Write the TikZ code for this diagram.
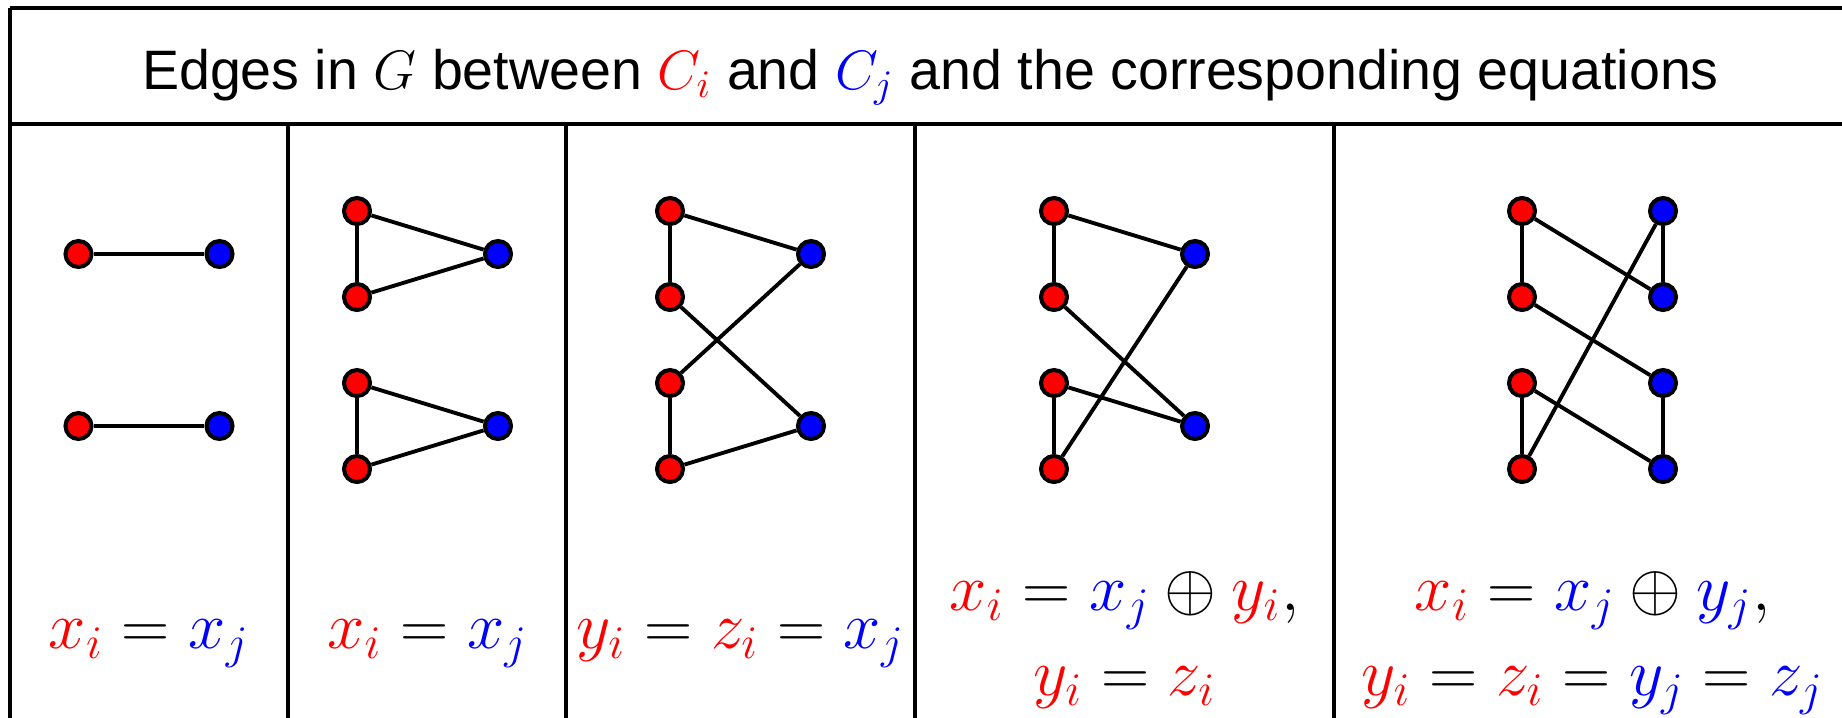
\RequirePackage{fix-cm}
\documentclass[tikz,border=0pt]{standalone}
\usepackage[no-math]{fontspec}
\setmainfont{Liberation Sans}
\usepackage{xcolor}
\usepackage{tikz}
\usetikzlibrary{positioning}

\newcommand{\redm}[1]{{\color{red}#1}}
\newcommand{\bluem}[1]{{\color{blue}#1}}

\begin{document}
\begin{tikzpicture}[x=0.01cm, y=-0.01cm,
    rv/.style={circle, draw=black, line width=1.15pt, fill=red, minimum size=0.26cm, inner sep=0pt},
    bv/.style={rv, fill=blue},
    edge/.style={line width=1.1pt},
    eq/.style={font=\fontsize{19}{24}\selectfont, anchor=base, align=center, inner sep=0pt},
    rule/.style={line width=0.95pt},
    sep/.style={line width=0.95pt}]

\useasboundingbox (0,0) rectangle (1842,717);
\clip (0,0) rectangle (1842,717);

% ── Table frame ──────────────────────────────────────────────────
\draw[rule] (10,8) -- (1900,8);
\draw[rule] (10,8) -- (10,760);
\draw[rule, line width=1.15pt] (10,124) -- (1900,124);
\foreach \x in {288, 566, 915, 1334}
    \draw[sep] (\x,124) -- (\x,760);

% Header
\node[font=\fontsize{15.8}{19}\selectfont, anchor=base, inner sep=0pt] (title) at (930.5,89)
    {Edges in $G$ between $\redm{C_i}$ and $\bluem{C_j}$ and the corresponding equations};

% ── Panel 1: two single edges ────────────────────────────────────
\begin{scope}[shift={(149,0)}]
    \foreach \i/\y in {1/254, 2/426} {
        \node[rv] (ar\i) at (-70.5,\y) {};
        \node[bv] (ab\i) at (70.5,\y) {};
    }
    \foreach \u/\v in {ar1/ab1, ar2/ab2}
        \draw[edge] (\u) -- (\v);
    \node[eq] (aeq) at (0,648) {$\redm{x_i} = \bluem{x_j}$};
\end{scope}

% ── Panel 2: two triangles ───────────────────────────────────────
\begin{scope}[shift={(427.5,0)}]
    \foreach \i/\y in {1/211, 2/297, 3/383, 4/469}
        \node[rv] (br\i) at (-70.5,\y) {};
    \foreach \i/\y in {1/254, 2/426}
        \node[bv] (bb\i) at (70.5,\y) {};
    \foreach \u/\v in {br1/br2, br1/bb1, br2/bb1, br3/br4, br3/bb2, br4/bb2}
        \draw[edge] (\u) -- (\v);
    \node[eq] (beq) at (0,648) {$\redm{x_i} = \bluem{x_j}$};
\end{scope}

% ── Panel 3: crossed pair ────────────────────────────────────────
\begin{scope}[shift={(740.5,0)}]
    \foreach \i/\y in {1/211, 2/297, 3/383, 4/469}
        \node[rv] (cr\i) at (-70.5,\y) {};
    \foreach \i/\y in {1/254, 2/426}
        \node[bv] (cb\i) at (70.5,\y) {};
    \foreach \u/\v in {cr1/cr2, cr1/cb1, cr2/cb2, cb1/cr3, cr3/cr4, cr4/cb2}
        \draw[edge] (\u) -- (\v);
    \node[eq] (ceq) at (0,648) {$\redm{y_i} = \redm{z_i} = \bluem{x_j}$};
\end{scope}

% ── Panel 4 ──────────────────────────────────────────────────────
\begin{scope}[shift={(1124.5,0)}]
    \foreach \i/\y in {1/211, 2/297, 3/383, 4/469}
        \node[rv] (dr\i) at (-70.5,\y) {};
    \foreach \i/\y in {1/254, 2/426}
        \node[bv] (db\i) at (70.5,\y) {};
    \foreach \u/\v in {dr1/dr2, dr1/db1, dr2/db2, dr3/dr4, dr3/db2, dr4/db1}
        \draw[edge] (\u) -- (\v);
    \node[eq] (deq) at (0,695)
        {$\redm{x_i} = \bluem{x_j} \oplus \redm{y_i},$\\ $\redm{y_i} = \redm{z_i}$};
\end{scope}

% ── Panel 5 ──────────────────────────────────────────────────────
\begin{scope}[shift={(1592.5,0)}]
    \foreach \i/\y in {1/211, 2/297, 3/383, 4/469} {
        \node[rv] (er\i) at (-70.5,\y) {};
        \node[bv] (eb\i) at (70.5,\y) {};
    }
    \foreach \u/\v in {er1/er2, er1/eb2, eb1/eb2, er2/eb3, eb1/er4, er3/er4, er3/eb4, eb3/eb4}
        \draw[edge] (\u) -- (\v);
    \node[eq] (eeq) at (0,695)
        {$\redm{x_i} = \bluem{x_j} \oplus \bluem{y_j},$\\ $\redm{y_i} = \redm{z_i} = \bluem{y_j} = \bluem{z_j}$};
\end{scope}

\end{tikzpicture}
\end{document}
